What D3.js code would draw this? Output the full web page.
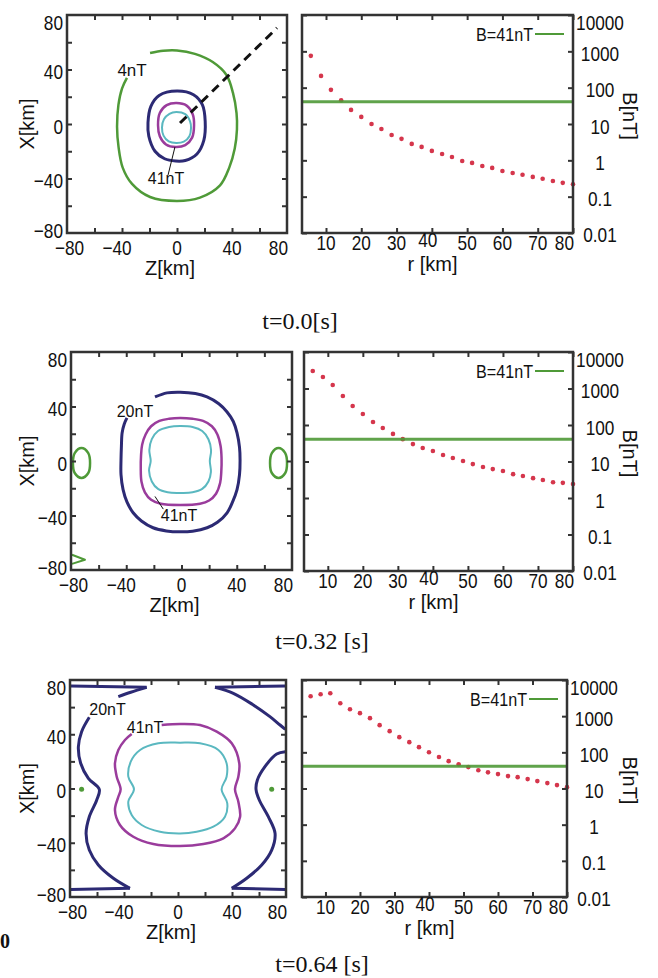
<!DOCTYPE html>
<html lang="ja">
<head>
<meta charset="UTF-8">
<title>B field</title>
<style>
  body { margin: 0; background: #fff; }
  svg { display: block; }
  .frame { fill: none; stroke: #333; stroke-width: 2.5px; }
  .tick line { stroke: #333; stroke-width: 2px; }
  .tick text { display: none; }
  .domain { display: none; }
  .lbl { font-family: "Liberation Sans", Arial, sans-serif; fill: #111; }
  .ttl { font-family: "Liberation Serif", "Times New Roman", serif; fill: #111; }
</style>
</head>
<body>
<svg id="fig" width="658" height="978"></svg>
<script src="https://cdnjs.cloudflare.com/ajax/libs/d3/7.8.5/d3.min.js"></script>
<script>
"use strict";

// ---------- data ----------
var titles = ["t=0.0[s]", "t=0.32 [s]", "t=0.64 [s]"];
var zTicks = [-80, -40, 0, 40, 80];
var xTicks = [-80, -40, 0, 40, 80];
var rTicks = [10, 20, 30, 40, 50, 60, 70, 80];
var bTicks = [0.01, 0.1, 1, 10, 100, 1000, 10000];
var bTickLabels = ["0.01", "0.1", "1", "10", "100", "1000", "10000"];
var bLevel = 41;
var legendText = "B=41nT";

var rValues = [5.7, 8.6, 11.4, 14.3, 17.1, 20.0, 22.9, 25.7, 28.6, 31.4, 34.3, 37.1, 40.0, 42.9,
               45.7, 48.6, 51.4, 54.3, 57.1, 60.0, 62.9, 65.7, 68.6, 71.4, 74.3, 77.1, 80.0];
var bT0 = [752, 211, 87, 45, 24.4, 15.7, 10, 7.3, 5.0, 3.9, 2.83, 2.34, 1.82, 1.50,
           1.24, 0.96, 0.85, 0.70, 0.62, 0.51, 0.45, 0.40, 0.35, 0.31, 0.27, 0.24, 0.22];
var bT1 = [3014, 2065, 1247, 623, 332, 200, 121, 83, 57, 41, 30, 23.4, 19.4, 15.1,
           12.5, 10.3, 8.5, 7.1, 6.2, 5.5, 4.5, 4.0, 3.5, 3.1, 2.7, 2.6, 2.4];
var bT2 = [3565, 4055, 4315, 2286, 1560, 1211, 881, 564, 385, 263, 191, 139, 101, 74,
           57, 47, 39, 32, 28, 25, 22, 20.6, 18.2, 16, 14.1, 12.4, 10.9];

// contour lines, points are [Z, X] in km
// t = 0.0
var c0Green = [[-19.6,52.1],[-10,53.8],[0,54],[13,51.5],[26,45.5],[36,36],[40.7,22.8],[43.3,8],[43.6,-4],
               [42,-18],[38,-32],[31.3,-45],[16.7,-54],[0,-56.5],[-19.6,-53.6],[-32.7,-44],[-39.5,-32],
               [-42.5,-17],[-43.6,-2],[-42.6,14],[-40,26],[-36.4,33.8]];
var c0Navy = [[0,24.2],[12,21.5],[18.5,14],[20.5,2],[19.5,-12],[14.5,-22],[6,-26.8],[-1,-27.2],
              [-9,-25.5],[-16,-20],[-20.5,-9],[-21.1,1],[-19,13],[-13,21]];
var c0Purple = [[-0.5,15.4],[7,13.5],[11.5,7],[12.4,-1],[11,-10],[6,-15.5],[-1,-16.9],[-8,-15],
                [-12.5,-9],[-13.8,-1],[-12.5,8],[-7.5,13.8]];
var c0Cyan = [[-0.5,8.8],[6,7.2],[9.5,2],[10.2,-3],[9,-9],[5,-13],[-0.5,-14],[-6,-12.8],
              [-9.8,-8.5],[-10.9,-2.5],[-9.5,3.5],[-5.5,7.5]];
var c0Dash = [[2.2,0.7],[72.7,70.5]];
var c0Leader = [[-6.5,-37.4],[-1.5,-16.9]];

// t = 0.32
var c1Navy = [[-19.2,47],[-10.5,50],[-1,50.5],[10,49.5],[18.5,47],[27,42],[33,36],[37.5,29],[40.2,20.6],
              [42,10],[42.4,0.8],[42,-10],[40.2,-21],[37,-30],[33,-38],[26,-45],[18.5,-49],[8,-51.5],
              [-1,-52],[-11,-51.3],[-20.6,-49],[-29,-44],[-35,-38],[-39.5,-30],[-42.3,-21],[-43.8,-10],
              [-43.8,0.8],[-43.5,11],[-43,20.6],[-41.5,27],[-39.5,31.6]];
var c1Purple = [[-1,31.6],[8,31],[15.6,29.4],[22,25.5],[26,19.5],[28.3,11],[29,2],[28.8,-8],[28,-16],
                [25,-24],[20,-29],[13.4,-31.4],[-1,-32.3],[-15,-31.4],[-22,-28.5],[-26.5,-23],[-29,-15],
                [-29.5,-5],[-29.3,4],[-28.5,12],[-26,19.5],[-22,25.5],[-16,29.4],[-9,31]];
var c1Cyan = [[-1,25.7],[8,25],[15,22],[19.5,16],[21.4,8],[20.5,0],[21.3,-8],[19.5,-15],[15,-20.5],
              [8,-23],[-1,-23.4],[-10,-23],[-17,-20.5],[-21.5,-15],[-23.5,-7],[-22.3,0],[-23.3,8],
              [-21.5,16],[-17,22],[-9,25]];
var c1GreenL = [[-72.4,9.6],[-67.6,6],[-66.2,-1.4],[-67.6,-9],[-72.4,-12.4],[-77.2,-9],[-78.6,-1.4],[-77.2,6]];
var c1GreenR = [[70.3,9.6],[75,6],[76.4,-1.4],[75,-9],[70.3,-12.4],[65.5,-9],[64.1,-1.4],[65.5,6]];
var c1Wedge = [[-79.3,-68.8],[-69.9,-72.5],[-79.3,-75.5]];
var c1Leader = [[-13.2,-35.3],[-19.2,-26]];

// t = 0.64
var c2NavyA = [[-79.5,75.6],[-23.2,74.6]];
var c2NavyA2 = [[-23.2,74.6],[-35,71],[-44.2,67.7]];
var c2NavyB = [[-65.7,52.5],[-71.4,41.9],[-73.8,30.8],[-72.1,18.6],[-66.4,7.5],[-58.3,-0.6],[-60.2,-8.5],
               [-65.7,-20.8],[-68.1,-33.1],[-65.7,-45.4],[-59,-56.4],[-47.9,-66.2],[-35.6,-73.6]];
var c2NavyB2 = [[-35.6,-73.6],[-79.5,-74.4]];
var c2NavyC = [[79.5,75.6],[27.4,74.6]];
var c2NavyC2 = [[27.4,74.6],[41,70.2],[55.8,61.6],[68.1,53],[75.6,46.8],[79.5,43.6]];
var c2NavyD = [[79.5,27.1],[73.1,25.4],[64.4,16.1],[58.8,6.3],[57.8,-0.6],[60.2,-8.5],[66.9,-20.8],
               [71.9,-33.1],[69.4,-45.4],[62,-56.4],[50.9,-66.2],[39.8,-73.6]];
var c2NavyD2 = [[39.8,-73.6],[79.5,-74.4]];
var c2Purple = [[-12.1,46.8],[1.5,47.6],[16.3,46.8],[28.7,41.9],[39.8,33.3],[45.4,18.6],[44.7,8.7],
                [42.2,-0.6],[44.7,-9.7],[46,-20.8],[42.2,-29.4],[33.6,-36.7],[18.8,-40.9],[1.5,-42.4],
                [-18.3,-40.9],[-33.1,-35.6],[-43,-26.9],[-46.7,-15.9],[-44.2,-6.1],[-42.5,-0.6],
                [-45.4,8.7],[-46.7,18.6],[-44.2,28.4],[-39.3,35.8],[-34.3,40.2]];
var c2Cyan = [[1.5,33.8],[16.3,33.3],[29.9,28.4],[36,18.6],[36,8.7],[32.3,-0.6],[36.5,-10.9],[34.8,-20.8],
              [26.2,-28.2],[13.8,-31.9],[1.5,-33.1],[-13.3,-31.9],[-26.9,-26.9],[-34.3,-19.6],[-36.8,-9.7],
              [-32.6,-0.6],[-36.8,8.7],[-35,19.8],[-28.1,28.4],[-14.6,33.3]];
var c2GreenDots = [[-71.4,-0.6],[69.4,-0.6]];

// contour labels [Z, X]
var labels0 = [{at: [-32.7, 40], s: "4nT"}, {at: [-8, -39.6], s: "41nT"}];
var labels1 = [{at: [-33.7, 36.7], s: "20nT"}, {at: [-1.8, -39.5], s: "41nT"}];
var labels2 = [{at: [-52.2, 58.6], s: "20nT"}, {at: [-24.4, 45.3], s: "41nT"}];

// ---------- layout / style ----------
var GREEN = "#4f9a38", NAVY = "#2c2a74", PURPLE = "#9a3c9c", CYAN = "#5ab8c0", RED = "#d5364c";

var rows = [
  {L: {x0: 67, x1: 287, y0: 15, y1: 233}, R: {x0: 302, x1: 573, y0: 15, y1: 233}, tx: 300, ty: 329, b: bT0,
   lines: [
     {p: c0Green, c: GREEN, w: 2.5}, {p: c0Navy, c: NAVY, w: 3, closed: true},
     {p: c0Purple, c: PURPLE, w: 2.5, closed: true}, {p: c0Cyan, c: CYAN, w: 2, closed: true},
     {p: c0Dash, c: "#111", w: 3, dash: "9,6"}, {p: c0Leader, c: "#111", w: 1}],
   labels: labels0, dots: []},
  {L: {x0: 71, x1: 292, y0: 352, y1: 570}, R: {x0: 304, x1: 573, y0: 352, y1: 571}, tx: 322, ty: 649, b: bT1,
   lines: [
     {p: c1Navy, c: NAVY, w: 3}, {p: c1Purple, c: PURPLE, w: 2.5, closed: true},
     {p: c1Cyan, c: CYAN, w: 2, closed: true}, {p: c1GreenL, c: GREEN, w: 2.5, closed: true},
     {p: c1GreenR, c: GREEN, w: 2.5, closed: true}, {p: c1Wedge, c: GREEN, w: 2, linear: true},
     {p: c1Leader, c: "#111", w: 1}],
   labels: labels1, dots: []},
  {L: {x0: 70, x1: 286, y0: 680, y1: 897}, R: {x0: 302, x1: 567, y0: 680, y1: 897}, tx: 322, ty: 972, b: bT2,
   lines: [
     {p: c2NavyA, c: NAVY, w: 3}, {p: c2NavyA2, c: NAVY, w: 3}, {p: c2NavyB, c: NAVY, w: 3},
     {p: c2NavyB2, c: NAVY, w: 3}, {p: c2NavyC, c: NAVY, w: 3}, {p: c2NavyC2, c: NAVY, w: 3},
     {p: c2NavyD, c: NAVY, w: 3}, {p: c2NavyD2, c: NAVY, w: 3},
     {p: c2Purple, c: PURPLE, w: 2.5}, {p: c2Cyan, c: CYAN, w: 2, closed: true}],
   labels: labels2, dots: c2GreenDots}
];

var svg = d3.select("#fig");
var MINUS = "\u2212";
function fmt(v) { return v < 0 ? MINUS + Math.abs(v) : String(v); }

// condensed label: scale x only
function txt(g, x, y, s, size, anchor, sx) {
  return g.append("text").attr("class", "lbl")
    .attr("transform", "translate(" + x + "," + y + ") scale(" + sx + ",1)")
    .attr("text-anchor", anchor).attr("dy", "0.36em")
    .style("font-size", size + "px").text(s);
}

// inward ticks on all four sides + box
function frameAndTicks(g, b, x, y, xt, yt) {
  g.append("g").attr("transform", "translate(0," + b.y1 + ")")
    .call(d3.axisBottom(x).tickValues(xt).tickSize(-5).tickFormat(""));
  g.append("g").attr("transform", "translate(0," + b.y0 + ")")
    .call(d3.axisTop(x).tickValues(xt).tickSize(-5).tickFormat(""));
  g.append("g").attr("transform", "translate(" + b.x0 + ",0)")
    .call(d3.axisLeft(y).tickValues(yt).tickSize(-5).tickFormat(""));
  g.append("g").attr("transform", "translate(" + b.x1 + ",0)")
    .call(d3.axisRight(y).tickValues(yt).tickSize(-5).tickFormat(""));
  g.append("rect").attr("class", "frame")
    .attr("x", b.x0).attr("y", b.y0).attr("width", b.x1 - b.x0).attr("height", b.y1 - b.y0);
}

rows.forEach(function(row, i) {
  // ----- left: contour map -----
  var L = row.L;
  var x = d3.scaleLinear().domain([-80, 80]).range([L.x0, L.x1]);
  var y = d3.scaleLinear().domain([-80, 80]).range([L.y1, L.y0]);
  var g = svg.append("g");

  row.lines.forEach(function(ln) {
    var curve = ln.closed ? d3.curveCatmullRomClosed.alpha(0.5)
              : (ln.linear || ln.p.length < 3) ? d3.curveLinear : d3.curveCatmullRom.alpha(0.5);
    var line = d3.line().x(function(d) { return x(d[0]); }).y(function(d) { return y(d[1]); }).curve(curve);
    g.append("path").attr("d", line(ln.p))
      .attr("fill", "none").attr("stroke", ln.c).attr("stroke-width", ln.w)
      .attr("stroke-dasharray", ln.dash || null).attr("stroke-linejoin", "round");
  });
  g.selectAll("circle.gd").data(row.dots).enter().append("circle")
    .attr("cx", function(d) { return x(d[0]); }).attr("cy", function(d) { return y(d[1]); })
    .attr("r", 2.5).attr("fill", GREEN);
  row.labels.forEach(function(l) {
    txt(g, x(l.at[0]), y(l.at[1]), l.s, l.s.length > 3 ? 16 : 17, "middle", 1);
  });

  frameAndTicks(g, L, x, y, [-60, -40, -20, 0, 20, 40, 60], [-60, -40, -20, 0, 20, 40, 60]);

  zTicks.forEach(function(v) {
    if (v === -80) txt(g, L.x0 - 12, L.y1 + 14, fmt(v), 21, "start", 0.82);
    else if (v === 80) txt(g, L.x1 + 1, L.y1 + 14, fmt(v), 21, "end", 0.82);
    else txt(g, x(v) + (v < 0 ? -5 : 0), L.y1 + 14, fmt(v), 21, "middle", 0.82);
  });
  xTicks.forEach(function(v) {
    var dy = v === 80 ? 7 : (v === -80 ? -3 : 2);
    txt(g, L.x0 - 4, y(v) + dy, fmt(v), 21, "end", 0.82);
  });
  txt(g, (L.x0 + L.x1) / 2 - 7, L.y1 + 35, "Z[km]", 20, "middle", 1);
  g.append("text").attr("class", "lbl")
    .attr("transform", "translate(34," + (L.y0 + L.y1) / 2 + ") rotate(-90)")
    .attr("text-anchor", "middle").style("font-size", "20px").text("X[km]");

  // ----- right: B(r) profile -----
  var R = row.R;
  var xr = d3.scaleLinear().domain([3.2, 80]).range([R.x0, R.x1]);
  var yb = d3.scaleLog().domain([0.01, 10000]).range([R.y1, R.y0]);
  var h = svg.append("g");

  h.selectAll("circle.b").data(row.b).enter().append("circle")
    .attr("cx", function(d, k) { return xr(rValues[k]); })
    .attr("cy", function(d) { return yb(d); })
    .attr("r", 2.3).attr("fill", RED);
  h.append("line")
    .attr("x1", xr(3.2)).attr("x2", xr(80)).attr("y1", yb(bLevel)).attr("y2", yb(bLevel))
    .attr("stroke", GREEN).attr("stroke-width", 3).attr("opacity", 0.9);

  // legend
  txt(h, R.x1 - 40, R.y0 + 19, legendText, 19, "end", 0.85);
  h.append("line").attr("x1", R.x1 - 38).attr("x2", R.x1 - 9)
    .attr("y1", R.y0 + 19).attr("y2", R.y0 + 19).attr("stroke", GREEN).attr("stroke-width", 2);

  frameAndTicks(h, R, xr, yb, rTicks, bTicks);

  rTicks.forEach(function(v) {
    if (v === 80) txt(h, R.x1 + 1, R.y1 + 9, String(v), 21, "end", 0.82);
    else if (v === 40) txt(h, xr(v) - 4, R.y1 + 6, String(v), 21, "middle", 0.82);
    else txt(h, xr(v), R.y1 + 9, String(v), 21, "middle", 0.82);
  });
  bTicks.forEach(function(v, k) {
    var dy = v === 10000 ? 7 : (v === 0.01 ? 1 : 2);
    txt(h, R.x1 + 27, yb(v) + dy, bTickLabels[k], 21, "middle", 0.82);
  });
  txt(h, (R.x0 + R.x1) / 2 - 5, R.y1 + 31, "r [km]", 20, "middle", 1);
  h.append("text").attr("class", "lbl")
    .attr("transform", "translate(623," + ((R.y0 + R.y1) / 2 - 8) + ") rotate(90)")
    .attr("text-anchor", "middle").style("font-size", "20px").text("B[nT]");

  // time label
  svg.append("text").attr("class", "ttl").attr("x", row.tx).attr("y", row.ty)
    .attr("text-anchor", "middle").style("font-size", "24px").text(titles[i]);
});

svg.append("text").attr("class", "ttl").attr("x", 0).attr("y", 948)
  .style("font-size", "20px").style("font-weight", "bold").text("0");
</script>
</body>
</html>
